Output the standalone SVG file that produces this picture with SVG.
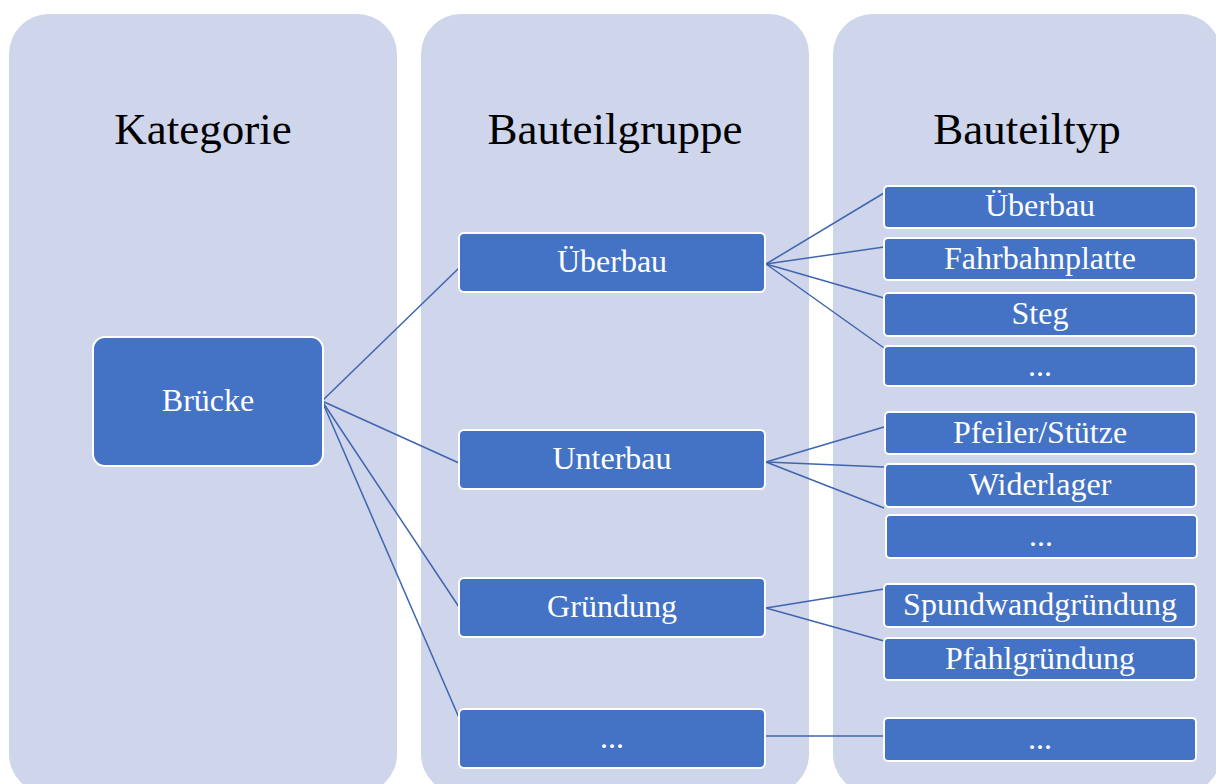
<svg xmlns="http://www.w3.org/2000/svg" width="1216" height="784" viewBox="0 0 1216 784">
  <style>
    .panel { fill: #CFD5EA; }
    .box { fill: #4472C4; stroke: #FFFFFF; stroke-width: 2; }
    .head { font-family: "Liberation Serif", "Times New Roman", serif; font-size: 45px; fill: #000000; text-anchor: middle; }
    .lbl { font-family: "Liberation Serif", "Times New Roman", serif; font-size: 32px; fill: #FFFFFF; text-anchor: middle; }
    .link { stroke: #3F65B0; stroke-width: 1.5; fill: none; }
  </style>

  <rect width="1216" height="784" fill="#FFFFFF"/>

  <!-- column backgrounds -->
  <g id="columns">
    <rect class="panel" x="9" y="14" width="388" height="780" rx="40" ry="40"/>
    <rect class="panel" x="421" y="14" width="388" height="780" rx="40" ry="40"/>
    <rect class="panel" x="833" y="14" width="388" height="780" rx="40" ry="40"/>
    <text class="head" x="203" y="144">Kategorie</text>
    <text class="head" x="615" y="144">Bauteilgruppe</text>
    <text class="head" x="1027" y="144">Bauteiltyp</text>
  </g>

  <!-- connectors -->
  <g id="connectors">
    <line class="link" x1="322" y1="401" x2="459" y2="268"/>
    <line class="link" x1="322" y1="401" x2="459" y2="463"/>
    <line class="link" x1="322" y1="401" x2="459" y2="607"/>
    <line class="link" x1="322" y1="401" x2="460" y2="720"/>

    <line class="link" x1="766" y1="264" x2="884" y2="193"/>
    <line class="link" x1="766" y1="264" x2="884" y2="247"/>
    <line class="link" x1="766" y1="264" x2="884" y2="298"/>
    <line class="link" x1="766" y1="264" x2="884" y2="348"/>

    <line class="link" x1="766" y1="462" x2="884" y2="427"/>
    <line class="link" x1="766" y1="462" x2="884" y2="467"/>
    <line class="link" x1="766" y1="462" x2="884" y2="508"/>

    <line class="link" x1="766" y1="608" x2="884" y2="589"/>
    <line class="link" x1="766" y1="608" x2="884" y2="641"/>

    <line class="link" x1="766" y1="736" x2="884" y2="736"/>
  </g>

  <!-- category -->
  <g id="node-bruecke">
    <rect class="box" x="93" y="337" width="230" height="129" rx="12" ry="12"/>
    <text class="lbl" x="208" y="411">Brücke</text>
  </g>

  <!-- component groups -->
  <g id="node-gruppe-ueberbau">
    <rect class="box" x="459" y="233" width="306" height="59" rx="5" ry="5"/>
    <text class="lbl" x="612" y="272">Überbau</text>
  </g>
  <g id="node-gruppe-unterbau">
    <rect class="box" x="459" y="430" width="306" height="59" rx="5" ry="5"/>
    <text class="lbl" x="612" y="469">Unterbau</text>
  </g>
  <g id="node-gruppe-gruendung">
    <rect class="box" x="459" y="578" width="306" height="59" rx="5" ry="5"/>
    <text class="lbl" x="612" y="617">Gründung</text>
  </g>
  <g id="node-gruppe-weitere">
    <rect class="box" x="459" y="709" width="306" height="59" rx="5" ry="5"/>
    <text class="lbl" x="612" y="748">...</text>
  </g>

  <!-- component types -->
  <g id="node-typ-ueberbau">
    <rect class="box" x="884" y="186" width="312" height="42" rx="4" ry="4"/>
    <text class="lbl" x="1040" y="216">Überbau</text>
  </g>
  <g id="node-typ-fahrbahnplatte">
    <rect class="box" x="884" y="238" width="312" height="42" rx="4" ry="4"/>
    <text class="lbl" x="1040" y="269">Fahrbahnplatte</text>
  </g>
  <g id="node-typ-steg">
    <rect class="box" x="884" y="293" width="312" height="43" rx="4" ry="4"/>
    <text class="lbl" x="1040" y="324">Steg</text>
  </g>
  <g id="node-typ-ueberbau-weitere">
    <rect class="box" x="884" y="346" width="312" height="40" rx="4" ry="4"/>
    <text class="lbl" x="1040" y="376">...</text>
  </g>
  <g id="node-typ-pfeiler">
    <rect class="box" x="885" y="412" width="311" height="42" rx="4" ry="4"/>
    <text class="lbl" x="1040" y="443">Pfeiler/Stütze</text>
  </g>
  <g id="node-typ-widerlager">
    <rect class="box" x="885" y="464" width="311" height="43" rx="4" ry="4"/>
    <text class="lbl" x="1040" y="495">Widerlager</text>
  </g>
  <g id="node-typ-unterbau-weitere">
    <rect class="box" x="886" y="515" width="311" height="43" rx="4" ry="4"/>
    <text class="lbl" x="1041" y="546">...</text>
  </g>
  <g id="node-typ-spundwand">
    <rect class="box" x="884" y="584" width="312" height="43" rx="4" ry="4"/>
    <text class="lbl" x="1040" y="615">Spundwandgründung</text>
  </g>
  <g id="node-typ-pfahl">
    <rect class="box" x="884" y="638" width="312" height="42" rx="4" ry="4"/>
    <text class="lbl" x="1040" y="669">Pfahlgründung</text>
  </g>
  <g id="node-typ-weitere">
    <rect class="box" x="884" y="718" width="312" height="43" rx="4" ry="4"/>
    <text class="lbl" x="1040" y="749">...</text>
  </g>
</svg>
